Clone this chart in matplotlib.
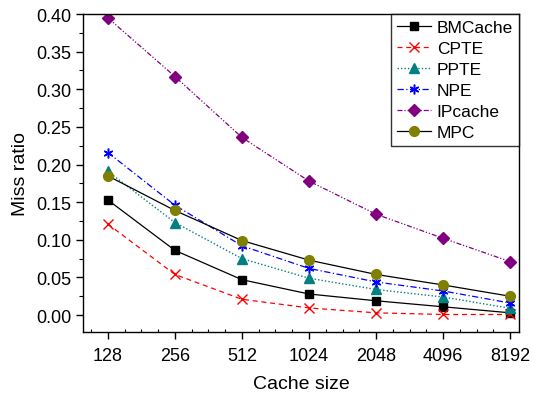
import matplotlib
matplotlib.use("Agg")
import matplotlib.pyplot as plt
from matplotlib.ticker import AutoMinorLocator, MultipleLocator

plt.rcParams["font.family"] = ["Liberation Sans", "DejaVu Sans"]

cache_sizes = ["128", "256", "512", "1024", "2048", "4096", "8192"]
bmcache = [0.153, 0.086, 0.047, 0.028, 0.019, 0.011, 0.003]
cpte = [0.121, 0.054, 0.021, 0.0095, 0.003, 0.0008, 0.0008]
ppte = [0.191, 0.123, 0.075, 0.049, 0.034, 0.024, 0.009]
npe = [0.216, 0.146, 0.092, 0.062, 0.044, 0.032, 0.016]
ipcache = [0.395, 0.317, 0.236, 0.178, 0.134, 0.102, 0.071]
mpc = [0.185, 0.139, 0.099, 0.073, 0.054, 0.040, 0.025]

fig = plt.figure(figsize=(5.33, 4.02), dpi=100)
ax = fig.add_axes([0.1557, 0.1716, 0.818, 0.791])

x = list(range(len(cache_sizes)))

ax.plot(x, bmcache, color="black", ls="-", lw=0.9, marker="s", ms=6,
        mfc="black", mec="black", label="BMCache")
ax.plot(x, cpte, color="red", ls=(0, (4, 3)), lw=0.9, marker="x", ms=7,
        mew=1.0, label="CPTE")
ax.plot(x, ppte, color="#008080", ls=(0, (1, 1.5)), lw=1.0, marker="^", ms=7,
        mfc="#008080", mec="#008080", label="PPTE")
ax.plot(x, npe, color="blue", ls=(0, (5, 2, 1, 2)), lw=0.9, marker=(6, 2, 0),
        ms=7, mew=1.1, label="NPE")
ax.plot(x, ipcache, color="#800080", ls=(0, (4, 1.5, 1, 1.5, 1, 1.5)), lw=0.9,
        marker="D", ms=6, mfc="#800080", mec="#800080", label="IPcache")
ax.plot(x, mpc, color="black", ls="-", lw=0.9, marker="o", ms=7,
        mfc="#808000", mec="#808000", label="MPC")

ax.set_xlim(-0.37, 6.13)
ax.set_ylim(-0.0225, 0.40)
ax.set_xticks(x)
ax.set_xticklabels(cache_sizes)
ax.xaxis.set_minor_locator(AutoMinorLocator(4))
ax.yaxis.set_major_locator(MultipleLocator(0.05))
ax.yaxis.set_minor_locator(AutoMinorLocator(2))
ax.yaxis.set_major_formatter(matplotlib.ticker.FormatStrFormatter("%.2f"))

ax.tick_params(axis="both", which="major", direction="out", length=5, width=1,
               labelsize=13)
ax.tick_params(axis="x", which="major", pad=6)
ax.tick_params(axis="x", which="minor", direction="in", length=2, width=0.8)
ax.tick_params(axis="y", which="minor", direction="out", length=3, width=0.8)
for s in ax.spines.values():
    s.set_linewidth(1.0)

ax.set_xlabel("Cache size", fontsize=14, labelpad=8)
ax.set_ylabel("Miss ratio", fontsize=14, labelpad=5)

leg = ax.legend(loc="upper right", borderaxespad=0, fontsize=12.5,
                frameon=True, fancybox=False, handlelength=2.0,
                labelspacing=0.33, handletextpad=0.3, borderpad=0.35)
leg.get_frame().set_edgecolor("black")
leg.get_frame().set_linewidth(1.0)

fig.savefig("out.png", dpi=100)
